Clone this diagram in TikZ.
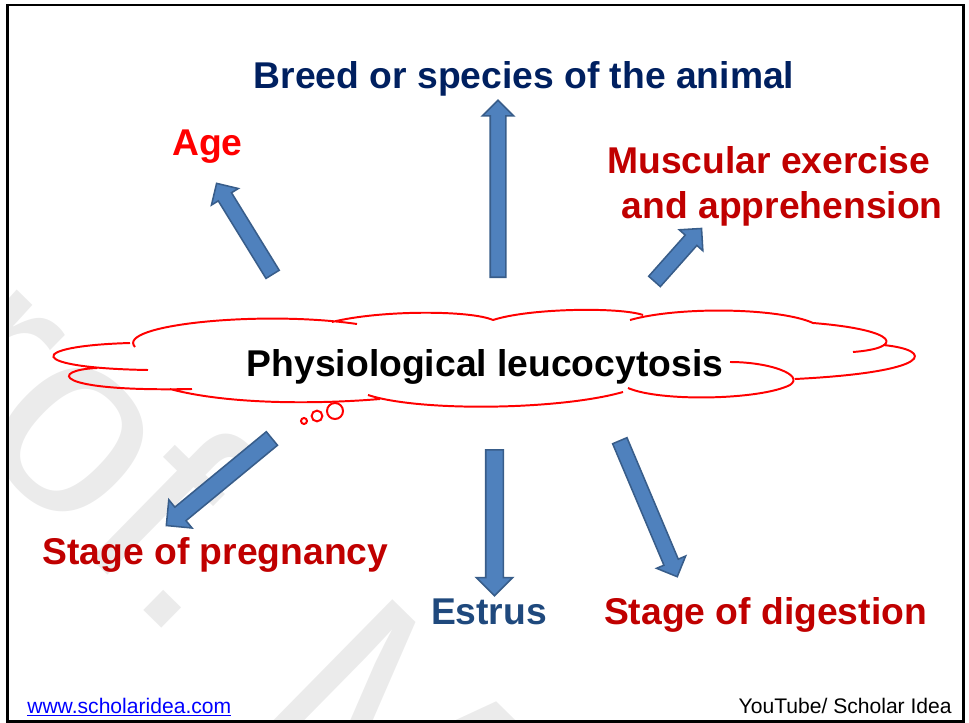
\documentclass[tikz,border=0pt]{standalone}
\usepackage{fontspec}
\setmainfont{Liberation Sans}
\usetikzlibrary{shapes.arrows}

\definecolor{arrowfill}{HTML}{4F81BD}
\definecolor{arrowline}{HTML}{385D8A}
\definecolor{darkred}{HTML}{C00000}
\definecolor{navy}{HTML}{002060}
\definecolor{estrusblue}{HTML}{1F497D}
\definecolor{markgray}{HTML}{EBEBEB}

\tikzset{
  labeltext/.style={font=\fontsize{26.5}{32}\selectfont\bfseries, inner sep=0pt, anchor=base},
  blockarrow/.style={single arrow, draw=arrowline, fill=arrowfill, line width=1.1pt,
    inner sep=0.175cm, anchor=tail, single arrow head extend=0.2cm},
  bigarrow/.style={blockarrow, inner sep=0.2cm, single arrow head extend=0.2375cm},
  cloudline/.style={red, line width=1.4pt},
  footer/.style={font=\fontsize{15}{18}\selectfont, inner sep=0pt}
}

\begin{document}
\begin{tikzpicture}[x=0.025cm, y=-0.025cm]
  \useasboundingbox (0,0) rectangle (969,723);

  % watermark
  \begin{scope}
    \clip (8,6) rectangle (963,721);
    \node[font=\fontsize{188.5}{190}\selectfont, text=markgray, rotate=-44.5,
      anchor=base west, inner sep=0pt] (mark) at (-220,253) {Prof. M};
  \end{scope}

  % frame
  \draw[line width=1.5pt] (7.5,5) rectangle (963.5,721.5);

  % the cloud
  \node[labeltext] (physio) at (485,376) {Physiological leucocytosis};
  \draw[cloudline]
    (135,347) .. controls (115,325) and (260,310) .. (357,324)
    (332,322) .. controls (380,310) and (470,310) .. (493,320)
    (493,320) .. controls (530,308) and (620,307) .. (643,315)
    (630,320) .. controls (680,306) and (780,308) .. (813,323)
    (813,323) .. controls (900,330) and (905,348) .. (853,352)
    (883,345) .. controls (935,350) and (935,372) .. (795,379)
    (628,388) .. controls (660,402) and (760,400) .. (790,385)
              .. controls (805,375) and (770,362) .. (730,362)
    (368,395) .. controls (420,412) and (560,410) .. (623,392)
    (170,389) .. controls (230,405) and (320,404) .. (380,399)
    (97,368) .. controls (50,370) and (50,392) .. (192,389)
    (130,343) .. controls (25,346) and (25,368) .. (148,370);
  \draw[cloudline] (304,421) circle[radius=0.075cm]
    (317,416) circle[radius=0.135cm]
    (335,411) circle[radius=0.2cm];

  % labels
  \node[labeltext, text=navy] (breed) at (524,88) {Breed or species of the animal};
  \node[labeltext, text=red] (age) at (207.5,155) {Age};
  \node[labeltext, text=darkred, anchor=base west, align=left] (muscle) at (607,218)
    {Muscular exercise\\\hspace*{0.39em}and apprehension};
  \node[labeltext, text=darkred] (pregnancy) at (215.5,564) {Stage of pregnancy};
  \node[labeltext, text=estrusblue] (estrus) at (489,624) {Estrus};
  \node[labeltext, text=darkred] (digestion) at (765.5,624) {Stage of digestion};

  % block arrows
  \node[blockarrow, rotate=121.6, minimum height=2.67cm] (toAge) at (273,275) {};
  \node[blockarrow, rotate=90, minimum height=4.425cm] (toBreed) at (498,278) {};
  \node[blockarrow, rotate=48.4, minimum height=1.77cm] (toMuscle) at (654,282) {};
  \node[bigarrow, rotate=219.5, minimum height=3.42cm] (toPregnancy) at (272.5,438) {};
  \node[bigarrow, rotate=-90, minimum height=3.65cm] (toEstrus) at (494.5,449) {};
  \node[blockarrow, rotate=-67.1, minimum height=3.69cm] (toDigestion) at (619.5,440) {};

  % footer
  \node[footer, text=blue, anchor=base west] (site) at (27,713) {\underline{www.scholaridea.com}};
  \node[footer, anchor=base east] (tube) at (952,713) {YouTube/ Scholar Idea};
\end{tikzpicture}
\end{document}
